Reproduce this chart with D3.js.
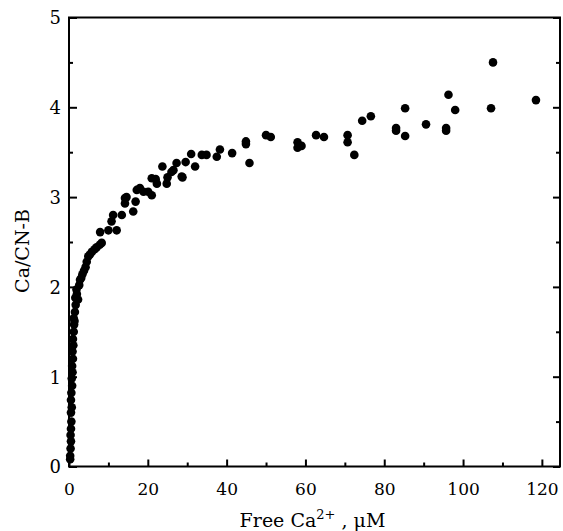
<!DOCTYPE html>
<html><head><meta charset="utf-8">
<script src="https://cdn.jsdelivr.net/npm/d3@7"></script>
<style>body{margin:0;background:#fff}svg{display:block}text{font-family:"DejaVu Serif",serif;fill:#000}</style>
</head><body>
<svg id="c" width="563" height="531"></svg>
<script>
const freeCa = [0.3,0.3,0.4,0.5,0.4,0.5,0.6,0.5,0.7,0.5,0.6,0.8,0.7,0.9,0.8,1.0,0.9,1.1,1.0,1.2,1.3,1.2,1.5,1.4,1.7,1.6,2.0,2.3,1.9,2.6,2.8,3.1,3.4,3.8,4.2,4.5,4.9,5.3,5.8,6.5,7.0,7.8,8.3,
7.9,10,12.1,10.8,11.2,13.4,14.2,14.2,16.3,16.9,18.0,17.2,18.9,20.1,21,14.6,21,22.3,24.8,23.7,26,27.3,28.6,28.8,29.6,31,32,33.7,34.9,37.5,38.3,41.4,44.9,44.9,45.8,50,51.2,58,58,59,62.7,64.7,70.7,70.7,72.4,74.4,76.6,83,83,85.3,85.3,90.6,95.7,95.7,96.3,98,107.1,107.6,118.5,22,25,26.5];
const caPerCN = [0.08,0.12,0.2,0.28,0.35,0.42,0.5,0.6,0.66,0.74,0.82,0.9,0.98,1.05,1.12,1.2,1.28,1.35,1.42,1.5,1.58,1.65,1.72,1.62,1.8,1.88,1.92,1.86,1.97,2.02,2.08,2.1,2.14,2.18,2.22,2.28,2.34,2.36,2.39,2.42,2.44,2.47,2.49,
2.61,2.63,2.63,2.73,2.80,2.80,2.93,2.99,2.84,2.95,3.10,3.08,3.06,3.06,3.02,3.0,3.21,3.15,3.15,3.34,3.28,3.38,3.23,3.22,3.39,3.48,3.34,3.47,3.47,3.45,3.53,3.49,3.62,3.59,3.38,3.69,3.67,3.61,3.55,3.57,3.69,3.67,3.69,3.61,3.47,3.85,3.90,3.77,3.74,3.99,3.68,3.81,3.77,3.74,4.14,3.97,3.99,4.50,4.08,3.2,3.22,3.3];
const xTicks = [0,20,40,60,80,100,120];
const xMinor = [10,30,50,70,90,110];
const yTicks = [0,1,2,3,4,5];
const yMinor = [0.5,1.5,2.5,3.5,4.5];

const svg = d3.select("#c");
const L=69, R=560, T=17.5, B=466.5;
const x = d3.scaleLinear().domain([0,124.6]).range([L,R]);
const y = d3.scaleLinear().domain([0,5]).range([B,T]);

const g = svg.append("g");
g.selectAll("circle").data(freeCa.map((v,i)=>[v,caPerCN[i]])).join("circle")
  .attr("cx",d=>x(d[0])).attr("cy",d=>y(d[1])).attr("r",4.3).attr("fill","#000");

svg.append("rect").attr("x",L).attr("y",T).attr("width",R-L).attr("height",B-T)
  .attr("fill","none").attr("stroke","#000").attr("stroke-width",2);

function axis(gen, tr, major, minor, lenMaj, lenMin, labels){
  const a = svg.append("g").attr("transform",tr);
  a.call(gen.tickValues(major).tickSizeInner(lenMaj).tickSizeOuter(0).tickPadding(0).tickFormat(labels?d3.format("d"):""));
  a.select(".domain").remove();
  a.selectAll(".tick line").attr("stroke","#000").attr("stroke-width",2);
  const b = svg.append("g").attr("transform",tr);
  b.call(gen.tickValues(minor).tickSizeInner(lenMin).tickFormat(""));
  b.select(".domain").remove();
  b.selectAll(".tick line").attr("stroke","#000").attr("stroke-width",2);
  return a;
}
const ax = axis(d3.axisBottom(x), `translate(0,${B})`, xTicks, xMinor, -7, -4, true);
ax.selectAll(".tick text").attr("font-size",17).attr("font-family","DejaVu Serif").attr("y",28).attr("dy",0);
const ay = axis(d3.axisLeft(y), `translate(${L},0)`, yTicks, yMinor, -8, -4, true);
ay.selectAll(".tick text").attr("font-size",18).attr("font-family","DejaVu Serif").attr("x",-8).attr("dy","0.36em");
axis(d3.axisRight(y), `translate(${R},0)`, yTicks, yMinor, -7, -4, false);

const xl = svg.append("text").attr("x",(L+R)/2-2).attr("y",527).attr("text-anchor","middle").attr("font-size",19);
xl.append("tspan").text("Free Ca");
xl.append("tspan").text("2+").attr("font-size",13).attr("dy",-8);
xl.append("tspan").text(" , μM").attr("dy",8);
svg.append("text").attr("transform",`translate(29,251) rotate(-90)`).attr("text-anchor","middle").attr("font-size",19).text("Ca/CN-B");
</script>
</body></html>
